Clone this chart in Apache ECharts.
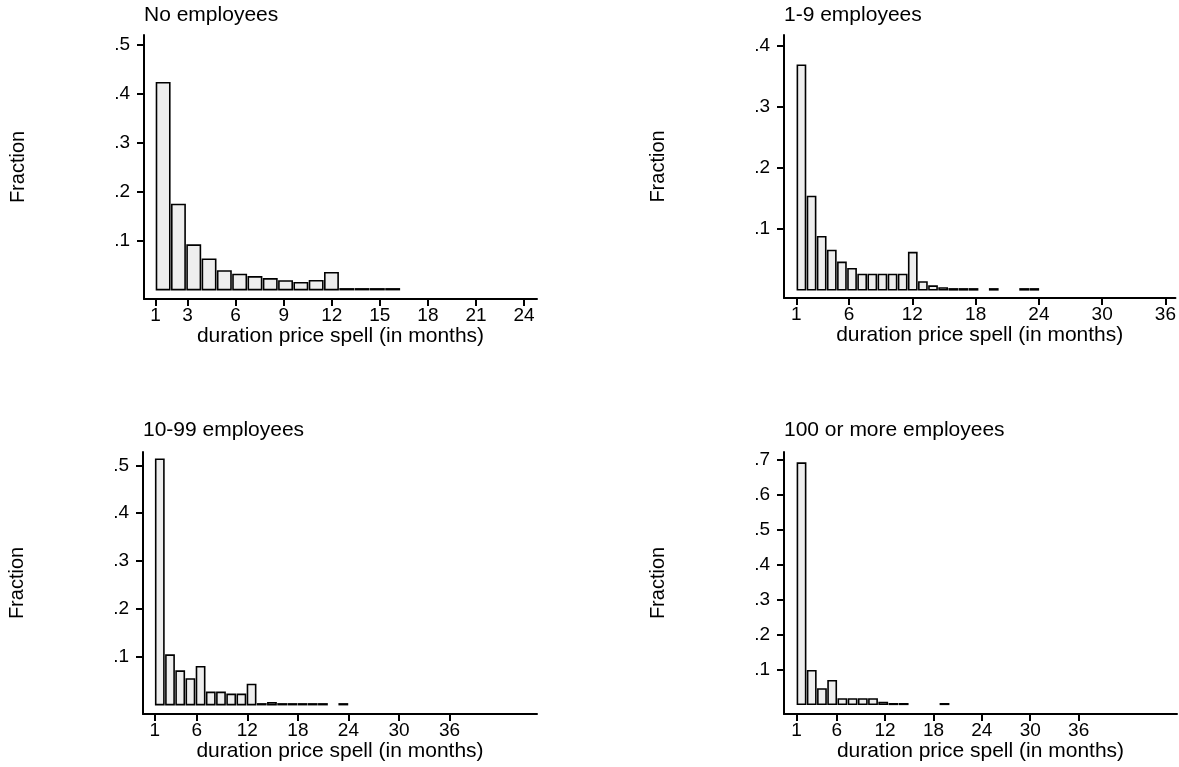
<!DOCTYPE html>
<html>
<head>
<meta charset="utf-8">
<script src="https://cdn.jsdelivr.net/npm/echarts@6/dist/echarts.min.js"></script>
<style>
html,body{margin:0;padding:0;background:#fff;}
#chart{width:1179px;height:767px;}
</style>
</head>
<body>
<div id="chart"></div>
<script>
// ---- data ----
const panelTitles = ['No employees', '1-9 employees', '10-99 employees', '100 or more employees'];
const xAxisTitle = 'duration price spell (in months)';
const yAxisTitle = 'Fraction';

// fraction per histogram bin (null = empty bin)
const fracNoEmployees = [0.423, 0.174, 0.091, 0.062, 0.038, 0.031, 0.026, 0.022, 0.0176, 0.014, 0.018, 0.0346, 0.0015, 0.0015, 0.0015, 0.0015];
const frac1to9 = [0.368, 0.153, 0.087, 0.0645, 0.045, 0.0345, 0.025, 0.025, 0.025, 0.025, 0.025, 0.061, 0.0128, 0.006, 0.003, 0.0015, 0.0015, 0.0015, null, 0.0015, null, null, 0.0015, 0.0015];
const frac10to99 = [0.513, 0.1035, 0.070, 0.0535, 0.079, 0.0257, 0.0257, 0.0215, 0.0215, 0.042, 0.0015, 0.004, 0.0015, 0.0015, 0.0015, 0.0015, 0.0015, null, 0.0015];
const frac100plus = [0.690, 0.096, 0.0437, 0.0675, 0.015, 0.015, 0.015, 0.015, 0.005, 0.0015, 0.0015, null, null, null, 0.0015];

// histogram bins: first bin starts at 1 month, bin widths in months
const binStart = 1;
const binWidths = [0.955, 0.96, 23 / 19, 19 / 15];

// tick labels
const xTicksNoEmp = [1, 3, 6, 9, 12, 15, 18, 21, 24];
const xTicks1to9 = [1, 6, 12, 18, 24, 30, 36];
const xTicksLarge = [1, 6, 12, 18, 24, 30, 36];
const yTicksNoEmp = [0.1, 0.2, 0.3, 0.4, 0.5];
const yTicks1to9 = [0.1, 0.2, 0.3, 0.4];
const yTicks10to99 = [0.1, 0.2, 0.3, 0.4, 0.5];
const yTicks100plus = [0.1, 0.2, 0.3, 0.4, 0.5, 0.6, 0.7];

// ---- layout / styling ----
const FONT = '"Liberation Sans", Arial, sans-serif';
const panels = [
  { vals: fracNoEmployees, xt: xTicksNoEmp, yt: yTicksNoEmp, grid: {left: 144, top: 35, width: 393, height: 264}, xr: [0.283, 24.81], yr: [-0.0192, 0.5207] },
  { vals: frac1to9, xt: xTicks1to9, yt: yTicks1to9, grid: {left: 784, top: 35, width: 393, height: 263}, xr: [-0.173, 36.95], yr: [-0.0134, 0.4175] },
  { vals: frac10to99, xt: xTicksLarge, yt: yTicks10to99, grid: {left: 143, top: 452, width: 394, height: 262}, xr: [-0.39, 46.39], yr: [-0.0196, 0.528] },
  { vals: frac100plus, xt: xTicksLarge, yt: yTicks100plus, grid: {left: 784, top: 452, width: 393, height: 262}, xr: [-0.54, 48.2], yr: [-0.0277, 0.7217] }
];
const titleTops = [5, 5, 420, 420];

const axisLineStyle = { color: '#000', width: 2 };
const yFmt = v => (+v.toFixed(2)).toString().replace(/^0\./, '.');

const option = {
  backgroundColor: '#fff',
  animation: false,
  title: panels.map((p, i) => ({
    text: panelTitles[i], left: p.grid.left, top: titleTops[i], padding: 0,
    textStyle: { fontSize: 21, fontWeight: 'normal', color: '#000', fontFamily: FONT }
  })),
  grid: panels.map(p => Object.assign({ containLabel: false }, p.grid)),
  xAxis: panels.map((p, i) => ({
    type: 'value', gridIndex: i, min: p.xr[0], max: p.xr[1],
    axisLine: { show: true, onZero: false, lineStyle: axisLineStyle },
    axisTick: { show: true, customValues: p.xt, length: 7, lineStyle: { color: '#000', width: 2 } },
    axisLabel: { customValues: p.xt, color: '#000', fontSize: 19, margin: 7, fontFamily: FONT },
    splitLine: { show: false },
    name: xAxisTitle, nameLocation: 'middle', nameGap: 26,
    nameTextStyle: { fontSize: 21, color: '#000', fontFamily: FONT }
  })),
  yAxis: panels.map((p, i) => ({
    type: 'value', gridIndex: i, min: p.yr[0], max: p.yr[1],
    axisLine: { show: true, onZero: false, lineStyle: axisLineStyle },
    axisTick: { show: true, customValues: p.yt, length: 7, lineStyle: { color: '#000', width: 2 } },
    axisLabel: { customValues: p.yt, color: '#000', fontSize: 19, margin: 14, fontFamily: FONT, formatter: yFmt },
    splitLine: { show: false },
    name: yAxisTitle, nameLocation: 'middle', nameGap: 116,
    nameTextStyle: { fontSize: 20, color: '#000', fontFamily: FONT }
  })),
  series: panels.map((p, i) => {
    const w = binWidths[i];
    const data = [];
    p.vals.forEach((v, k) => {
      if (v != null) data.push([binStart + k * w, binStart + (k + 1) * w, v]);
    });
    return {
      type: 'custom', xAxisIndex: i, yAxisIndex: i,
      encode: { x: [0, 1], y: 2 },
      data: data,
      renderItem: function (params, api) {
        const top = api.coord([api.value(0), api.value(2)]);
        const bot = api.coord([api.value(1), 0]);
        const inset = 1.0;
        return {
          type: 'rect',
          shape: { x: top[0] + inset, y: top[1], width: bot[0] - top[0] - 2 * inset, height: bot[1] - top[1] },
          style: { fill: '#eeeeee', stroke: '#000', lineWidth: 1.6 }
        };
      }
    };
  })
};

const chart = echarts.init(document.getElementById('chart'), null, { renderer: 'canvas' });
chart.setOption(option);
</script>
</body>
</html>
